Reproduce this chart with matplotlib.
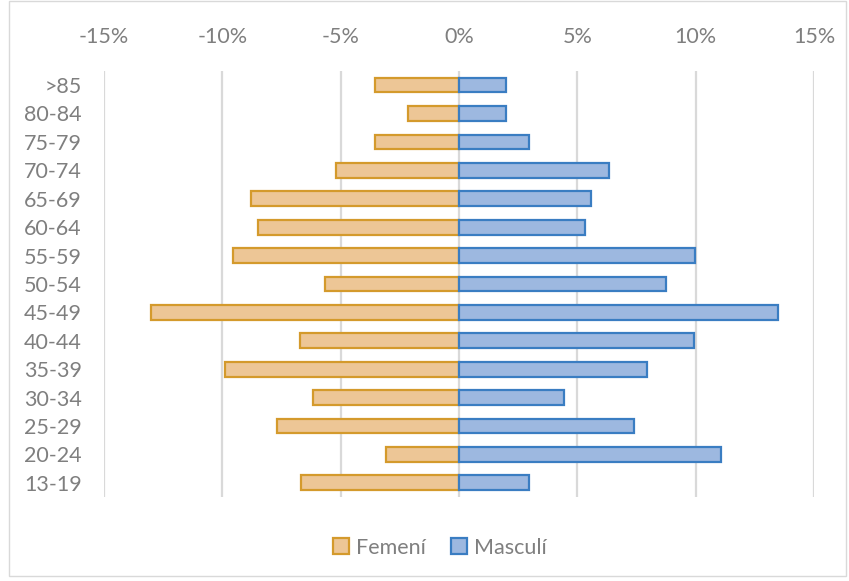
import matplotlib.pyplot as plt
from matplotlib.patches import Rectangle
from matplotlib.ticker import FuncFormatter

plt.rcParams['font.family'] = ['Lato', 'DejaVu Sans']

grups = ['13-19', '20-24', '25-29', '30-34', '35-39', '40-44', '45-49',
         '50-54', '55-59', '60-64', '65-69', '70-74', '75-79', '80-84', '>85']
femeni = [6.68, 3.10, 7.71, 6.17, 9.87, 6.71, 13.02,
          5.67, 9.53, 8.51, 8.77, 5.21, 3.55, 2.14, 3.55]
masculi = [2.96, 11.07, 7.39, 4.44, 7.95, 9.94, 13.50,
           8.75, 9.99, 5.31, 5.57, 6.34, 2.97, 1.99, 1.99]
ticks = [-15, -10, -5, 0, 5, 10, 15]

gris = '#7F7F7F'

fig = plt.figure(figsize=(8.49, 5.81), dpi=100)
ax = fig.add_axes([0.1225, 0.1446, 0.8362, 0.7334])

y = range(len(grups))
ax.barh(y, [-v for v in femeni], height=0.52, color='#EDC696',
        edgecolor='#D49A2C', linewidth=1.6, label='Femení', zorder=3)
ax.barh(y, masculi, height=0.52, color='#9DB8E0',
        edgecolor='#3A7DC2', linewidth=1.6, label='Masculí', zorder=3)

ax.set_xlim(-15, 15)
ax.set_ylim(-0.5, len(grups) - 0.5)
ax.set_xticks(ticks)
ax.xaxis.set_major_formatter(FuncFormatter(lambda v, p: f'{v:.0f}%'))
ax.set_yticks(list(y))
ax.set_yticklabels(grups)
ax.xaxis.tick_top()
ax.tick_params(axis='x', length=0, pad=17, labelsize=15.5, labelcolor=gris)
ax.tick_params(axis='y', length=0, pad=16, labelsize=15.5, labelcolor=gris)
ax.grid(axis='x', color='#D9D9D9', linewidth=1.6, zorder=0)
ax.set_axisbelow(True)
for s in ax.spines.values():
    s.set_visible(False)

leg = fig.legend(loc='center', bbox_to_anchor=(0.518, 0.057), ncol=2,
                 frameon=False, fontsize=15.5, handlelength=0.75,
                 handleheight=0.75, handletextpad=0.3, columnspacing=1.2)
for t in leg.get_texts():
    t.set_color(gris)

# marc exterior del gràfic
fig.patches.append(Rectangle((0.011, 0.008), 0.985, 0.99, transform=fig.transFigure,
                             fill=False, edgecolor='#D9D9D9', linewidth=1.0))

fig.savefig('out.png', dpi=100)
